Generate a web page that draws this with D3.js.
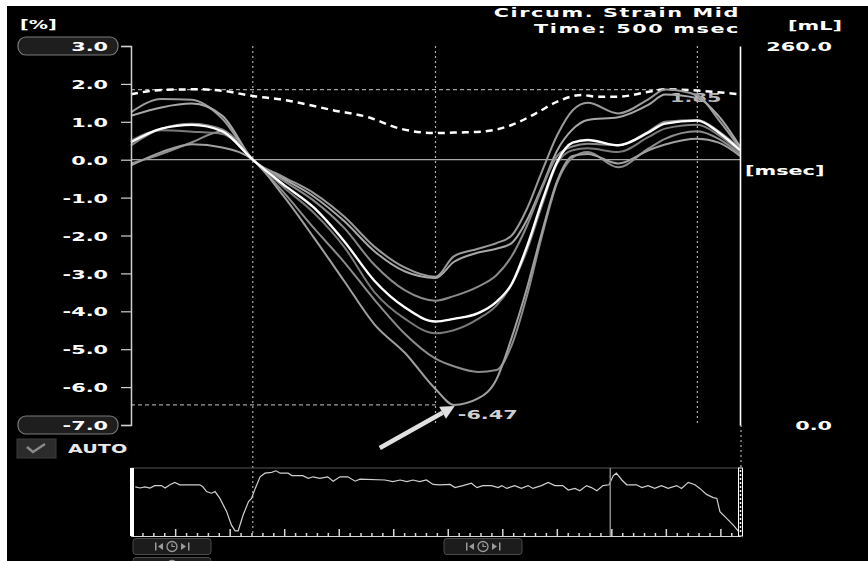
<!DOCTYPE html>
<html lang="en">
<head>
<meta charset="UTF-8">
<title>Circum. Strain Mid</title>
<script src="https://d3js.org/d3.v7.min.js"></script>
<style>
    body { margin: 0; background: #fff; }
    svg { display: block; }
    text { font-family: "DejaVu Sans", sans-serif; font-weight: bold; }
</style>
</head>
<body>
<script>
// strain samples (%), one value per entry of "times" (msec)
var times = [0, 50, 100, 150, 200, 250, 300, 350, 400, 450, 500, 530, 570, 600, 625, 650, 675, 700, 725, 750, 800, 850, 877, 930, 965, 1000];

var seg1 = [1.25, 1.6, 1.58, 1.08, 0, -0.45, -0.88, -1.5, -2.3, -2.85, -3.09, -2.55, -2.35, -2.2, -2.0, -1.3, -0.3, 0.65, 1.3, 1.5, 1.22, 1.6, 1.85, 1.7, 1.05, 0.3];
var seg2 = [1.16, 1.38, 1.48, 1.16, 0, -0.5, -0.97, -1.62, -2.42, -2.95, -3.12, -2.7, -2.45, -2.35, -2.2, -1.6, -0.7, 0.25, 0.8, 1.05, 1.12, 1.45, 1.72, 1.62, 1.15, 0.35];
var seg3 = [0.38, 0.82, 0.95, 0.8, 0, -0.55, -1.08, -1.8, -2.78, -3.45, -3.72, -3.6, -3.35, -3.05, -2.55, -1.75, -0.75, 0.1, 0.35, 0.42, 0.38, 0.75, 1.0, 1.05, 0.75, 0.3];
var seg4 = [0.5, 0.78, 0.74, 0.68, 0, -0.72, -1.4, -2.3, -3.5, -4.2, -4.58, -4.5, -4.2, -3.85, -3.3, -2.4, -1.2, -0.1, 0.25, 0.3, 0.2, 0.6, 0.82, 0.92, 0.65, 0.2];
var seg5 = [-0.1, 0.15, 0.46, 0.75, 0, -0.85, -1.8, -2.7, -3.7, -4.6, -5.25, -5.45, -5.6, -5.55, -4.9, -3.6, -2.0, -0.6, 0.05, 0.2, -0.2, 0.3, 0.55, 0.75, 0.55, 0.15];
var seg6 = [-0.15, 0.2, 0.41, 0.32, 0, -0.95, -2.05, -3.2, -4.35, -5.1, -6.05, -6.47, -6.3, -5.8, -4.7, -3.4, -1.9, -0.55, 0.1, 0.15, -0.1, 0.25, 0.4, 0.55, 0.45, 0.1];
var meanStrain = [0.46, 0.82, 0.92, 0.75, 0, -0.65, -1.26, -2.15, -3.2, -3.9, -4.27, -4.2, -4.05, -3.75, -3.28, -2.3, -1.1, -0.05, 0.45, 0.52, 0.38, 0.72, 0.95, 1.03, 0.72, 0.25];

var segments = [seg1, seg2, seg3, seg4, seg5, seg6];
var segColors = ["#9a9a9a", "#a8a8a8", "#8a8a8a", "#7a7a7a", "#8c8c8c", "#a0a0a0"];

// volume curve (mL)
var volTimes = [0, 50, 110, 150, 200, 245, 280, 330, 390, 440, 500, 540, 575, 625, 665, 700, 740, 765, 800, 850, 880, 955, 1000];
var volume = [226.9, 229.8, 230.3, 229.3, 225.7, 223.4, 220.7, 216.1, 211.1, 203.5, 200.3, 200.7, 201.2, 205.8, 213.8, 221.8, 226.4, 225.2, 225.2, 228.6, 230.3, 228.6, 226.9];

// ECG trace
var ecgTimes = [7, 15, 23, 31, 39, 50, 56, 64, 72, 80, 113, 118, 124, 132, 138, 146, 157, 165, 171, 176, 184, 193, 198, 204, 212, 220, 231, 238, 245, 258, 264, 282, 291, 299, 310, 323, 332, 343, 356, 368, 376, 417, 430, 442, 453, 463, 474, 485, 496, 507, 524, 532, 545, 559, 568, 578, 592, 603, 609, 617, 630, 641, 652, 660, 674, 685, 696, 709, 718, 729, 737, 748, 756, 765, 775, 785, 792, 797, 806, 814, 830, 839, 849, 860, 871, 882, 896, 904, 915, 926, 934, 945, 956, 962, 967, 978, 989, 1000];
var ecgValues = [-0.02, -0.05, -0.02, -0.05, 0.01, 0.01, -0.05, 0.03, 0.09, 0.03, 0.03, -0.02, -0.14, -0.18, -0.14, -0.31, -0.64, -0.98, -1.12, -1.12, -0.73, -0.39, -0.31, -0.06, 0.23, 0.32, 0.34, 0.38, 0.32, 0.32, 0.26, 0.26, 0.19, 0.23, 0.19, 0.23, 0.12, 0.23, 0.23, 0.12, 0.17, 0.15, 0.11, 0.15, 0.11, 0.15, 0.11, 0.15, 0.04, 0.03, 0.04, -0.04, 0.01, 0.07, -0.04, 0.01, 0.01, -0.04, 0.01, -0.06, 0.01, -0.06, 0.01, -0.06, 0.01, 0.09, 0.01, 0.01, -0.1, -0.06, -0.12, 0.01, -0.04, -0.12, 0.01, 0.03, 0.26, 0.32, 0.15, 0.03, 0.03, -0.04, 0.01, -0.06, 0.01, -0.06, 0.01, -0.06, 0.09, 0.03, -0.06, -0.21, -0.29, -0.31, -0.64, -0.81, -0.98, -1.18];

var strainTicks = [3, 2, 1, 0, -1, -2, -3, -4, -5, -6, -7];
var volTicks = [0, 260];
var markerTimes = [200, 500, 930];
var cursorTime = 500;
var ecgCursorTime = 787;
var title = ["Circum. Strain Mid", "Time: 500 msec"];

var W = 868, H = 561;
var svg = d3.select("body").append("svg").attr("width", W).attr("height", H);
svg.append("rect").attr("x", 7).attr("y", 6).attr("width", W - 7).attr("height", H - 6).attr("fill", "#000");

var x = d3.scaleLinear().domain([0, 1000]).range([131, 740]);
var y = d3.scaleLinear().domain([-7, 3]).range([425, 46]);
var yVol = d3.scaleLinear().domain([0, 260]).range([425, 46]);
var ecgY = d3.scaleLinear().domain([-1.25, 0.45]).range([536, 468]);
var tickX = d3.scaleLinear().domain([19, 1136]).range([131, 740]);

// the screen font is wide, so stretch the text horizontally
function label(px, py, str, size, anchor, color, spacing) {
    return svg.append("text")
        .attr("transform", "translate(" + px + "," + py + ") scale(1.6,1)")
        .attr("text-anchor", anchor || "start")
        .attr("font-size", size)
        .attr("letter-spacing", spacing || 0)
        .attr("fill", color || "#fff")
        .text(str);
}

function button(bx, by) {
    var g = svg.append("g").attr("transform", "translate(" + bx + "," + by + ")");
    g.append("rect").attr("width", 78).attr("height", 16).attr("rx", 3)
        .attr("fill", "#1c1c1c").attr("stroke", "#4a4a4a");
    var c = "#9a9a9a";
    g.append("rect").attr("x", 22).attr("y", 4).attr("width", 1.5).attr("height", 8).attr("fill", c);
    g.append("path").attr("d", "M25,8 L30,4.5 L30,11.5 Z").attr("fill", c);
    g.append("circle").attr("cx", 39).attr("cy", 8).attr("r", 5).attr("fill", "none").attr("stroke", c).attr("stroke-width", 1.3);
    g.append("path").attr("d", "M39,5 V8 H42").attr("fill", "none").attr("stroke", c).attr("stroke-width", 1.2);
    g.append("path").attr("d", "M48,4.5 L53,8 L48,11.5 Z").attr("fill", c);
    g.append("rect").attr("x", 55).attr("y", 4).attr("width", 1.5).attr("height", 8).attr("fill", c);
}

// titles and units
label(740, 17, title[0], 13, "end", "#fff", 1);
label(740, 33, title[1], 13, "end", "#fff", 1);
label(20, 29, "[%]", 12, "start");
label(842, 30, "[mL]", 13, "end");
label(745, 175, "[msec]", 13, "start");

// min / max of the segment curves
var allVals = d3.merge(segments);
var maxV = d3.max(allVals), minV = d3.min(allVals);
var maxT, minT;
segments.forEach(function (s) {
    s.forEach(function (v, i) {
        if (v === maxV) maxT = times[i];
        if (v === minV) minT = times[i];
    });
});

// grid: zero line, dotted markers, dashed extremes
svg.append("line").attr("x1", x(0)).attr("x2", x(1000)).attr("y1", y(0)).attr("y2", y(0))
    .attr("stroke", "#a8a8a8").attr("stroke-width", 1.2);

markerTimes.forEach(function (t) {
    var bottom = t === 200 ? 536 : y(-7);
    svg.append("line").attr("x1", x(t)).attr("x2", x(t)).attr("y1", y(3)).attr("y2", bottom)
        .attr("stroke", "#b0b0b0").attr("stroke-width", 1.2).attr("stroke-dasharray", "2,3");
});
svg.append("line").attr("x1", x(1000) + 1).attr("x2", x(1000) + 1).attr("y1", y(-7)).attr("y2", 468)
    .attr("stroke", "#b0b0b0").attr("stroke-width", 1.2).attr("stroke-dasharray", "2,3");

svg.append("line").attr("x1", x(0)).attr("x2", x(maxT)).attr("y1", y(maxV)).attr("y2", y(maxV))
    .attr("stroke", "#a0a0a0").attr("stroke-width", 1.2).attr("stroke-dasharray", "4,3");
svg.append("line").attr("x1", x(0)).attr("x2", x(cursorTime)).attr("y1", y(minV)).attr("y2", y(minV))
    .attr("stroke", "#a0a0a0").attr("stroke-width", 1.2).attr("stroke-dasharray", "4,3");

label(x(maxT) + 5, y(maxV) + 12, maxV.toFixed(2), 13, "start", "#b8b8b8");
label(x(minT) + 4, y(minV) + 14, minV.toFixed(2), 13, "start", "#cfcfcf");

// volume (dashed)
var volLine = d3.line().x(function (d, i) { return x(volTimes[i]); }).y(function (d) { return yVol(d); })
    .curve(d3.curveMonotoneX);
svg.append("path").attr("d", volLine(volume)).attr("fill", "none")
    .attr("stroke", "#fff").attr("stroke-width", 2.5).attr("stroke-dasharray", "7,5");

// strain curves
var strainLine = d3.line().x(function (d, i) { return x(times[i]); }).y(function (d) { return y(d); })
    .curve(d3.curveMonotoneX);
segments.forEach(function (s, k) {
    svg.append("path").attr("d", strainLine(s)).attr("fill", "none")
        .attr("stroke", segColors[k]).attr("stroke-width", 2);
});
svg.append("path").attr("d", strainLine(meanStrain)).attr("fill", "none")
    .attr("stroke", "#fff").attr("stroke-width", 2.4);

// left axis with the two pill-shaped limits
[3, -7].forEach(function (v) {
    svg.append("rect").attr("x", 18).attr("y", y(v) - 9).attr("width", 100).attr("height", 18).attr("rx", 8)
        .attr("fill", "#1e1e1e").attr("stroke", "#7a7a7a").attr("stroke-width", 1.2);
});
var gy = svg.append("g").attr("transform", "translate(131,0)")
    .call(d3.axisLeft(y).tickValues(strainTicks).tickSize(10).tickFormat(function (d) { return d.toFixed(1); }));
gy.attr("font-family", null).attr("font-size", 13);
gy.select(".domain").attr("stroke", "#d0d0d0").attr("stroke-width", 1.5);
gy.selectAll(".tick line").attr("stroke", "#d0d0d0").attr("stroke-width", 1.2);
gy.selectAll(".tick text").attr("x", null).attr("dy", "0.36em").attr("fill", "#fff")
    .attr("transform", "translate(-23,0) scale(1.6,1)");

// right (volume) axis
var gr = svg.append("g").attr("transform", "translate(740,0)")
    .call(d3.axisRight(yVol).tickValues(volTicks).tickSize(0).tickSizeOuter(0).tickFormat(function (d) { return d.toFixed(1); }));
gr.attr("font-family", null).attr("font-size", 13).attr("text-anchor", "end");
gr.select(".domain").attr("stroke", "#fff").attr("stroke-width", 1.6);
gr.selectAll(".tick text").attr("x", null).attr("dy", "0.36em").attr("fill", "#fff")
    .attr("transform", "translate(92,0) scale(1.6,1)");

// arrow pointing at the minimum
var tipX = x(minT) + 1, tipY = y(minV) + 1;
var dx = 75, dy = -42, len = Math.sqrt(dx * dx + dy * dy);
var ux = dx / len, uy = dy / len, nx = -uy, ny = ux;
var baseX = tipX - 14 * ux, baseY = tipY - 14 * uy;
svg.append("line").attr("x1", tipX - dx).attr("y1", tipY - dy).attr("x2", baseX).attr("y2", baseY)
    .attr("stroke", "#e0e0e0").attr("stroke-width", 4.5);
svg.append("path")
    .attr("d", "M" + tipX + "," + tipY + " L" + (baseX + 7 * nx) + "," + (baseY + 7 * ny) +
        " L" + (baseX - 7 * nx) + "," + (baseY - 7 * ny) + " Z")
    .attr("fill", "#e0e0e0");

// AUTO check box
svg.append("rect").attr("x", 17).attr("y", 439).attr("width", 39).attr("height", 19)
    .attr("fill", "#2b2b2b").attr("stroke", "#3c3c3c");
svg.append("path").attr("d", "M27,447 L33,452 L45,444").attr("fill", "none")
    .attr("stroke", "#8a8a8a").attr("stroke-width", 2.5);
label(68, 453, "AUTO", 12, "start", "#e8e8e8");

// ECG strip
svg.append("line").attr("x1", x(0)).attr("x2", x(1000)).attr("y1", 468).attr("y2", 468)
    .attr("stroke", "#555").attr("stroke-width", 1);
var ecgLine = d3.line().x(function (d, i) { return x(ecgTimes[i]); }).y(function (d) { return ecgY(d); });
svg.append("path").attr("d", ecgLine(ecgValues)).attr("fill", "none")
    .attr("stroke", "#cfcfcf").attr("stroke-width", 1.2);
svg.append("line").attr("x1", x(ecgCursorTime)).attr("x2", x(ecgCursorTime)).attr("y1", 468).attr("y2", 536)
    .attr("stroke", "#8a8a8a").attr("stroke-width", 1.5);

var minorTicks = d3.range(20, 1136, 20).filter(function (d) { return d % 100 !== 0; });
var majorTicks = d3.range(100, 1136, 100);
var gMinor = svg.append("g").attr("transform", "translate(0,536)")
    .call(d3.axisTop(tickX).tickValues(minorTicks).tickSize(3).tickSizeOuter(0).tickFormat(""));
var gMajor = svg.append("g").attr("transform", "translate(0,536)")
    .call(d3.axisTop(tickX).tickValues(majorTicks).tickSize(7).tickSizeOuter(0).tickFormat(""));
[gMinor, gMajor].forEach(function (g) {
    g.select(".domain").attr("stroke", "#d8d8d8").attr("stroke-width", 1.2);
    g.selectAll(".tick line").attr("stroke", "#d8d8d8").attr("stroke-width", 1.5);
});

svg.append("rect").attr("x", x(0) - 1).attr("y", 468).attr("width", 4).attr("height", 68).attr("fill", "#fff");
svg.append("rect").attr("x", x(1000) - 1.5).attr("y", 468).attr("width", 4).attr("height", 68)
    .attr("fill", "#000").attr("stroke", "#fff").attr("stroke-width", 1);
svg.append("line").attr("x1", x(1000) + 0.5).attr("x2", x(1000) + 0.5).attr("y1", 470).attr("y2", 534)
    .attr("stroke", "#fff").attr("stroke-width", 1.5).attr("stroke-dasharray", "2,2");

// playback buttons
button(133, 538.5);
button(444, 538.5);
button(133, 557.5);
</script>
</body>
</html>
